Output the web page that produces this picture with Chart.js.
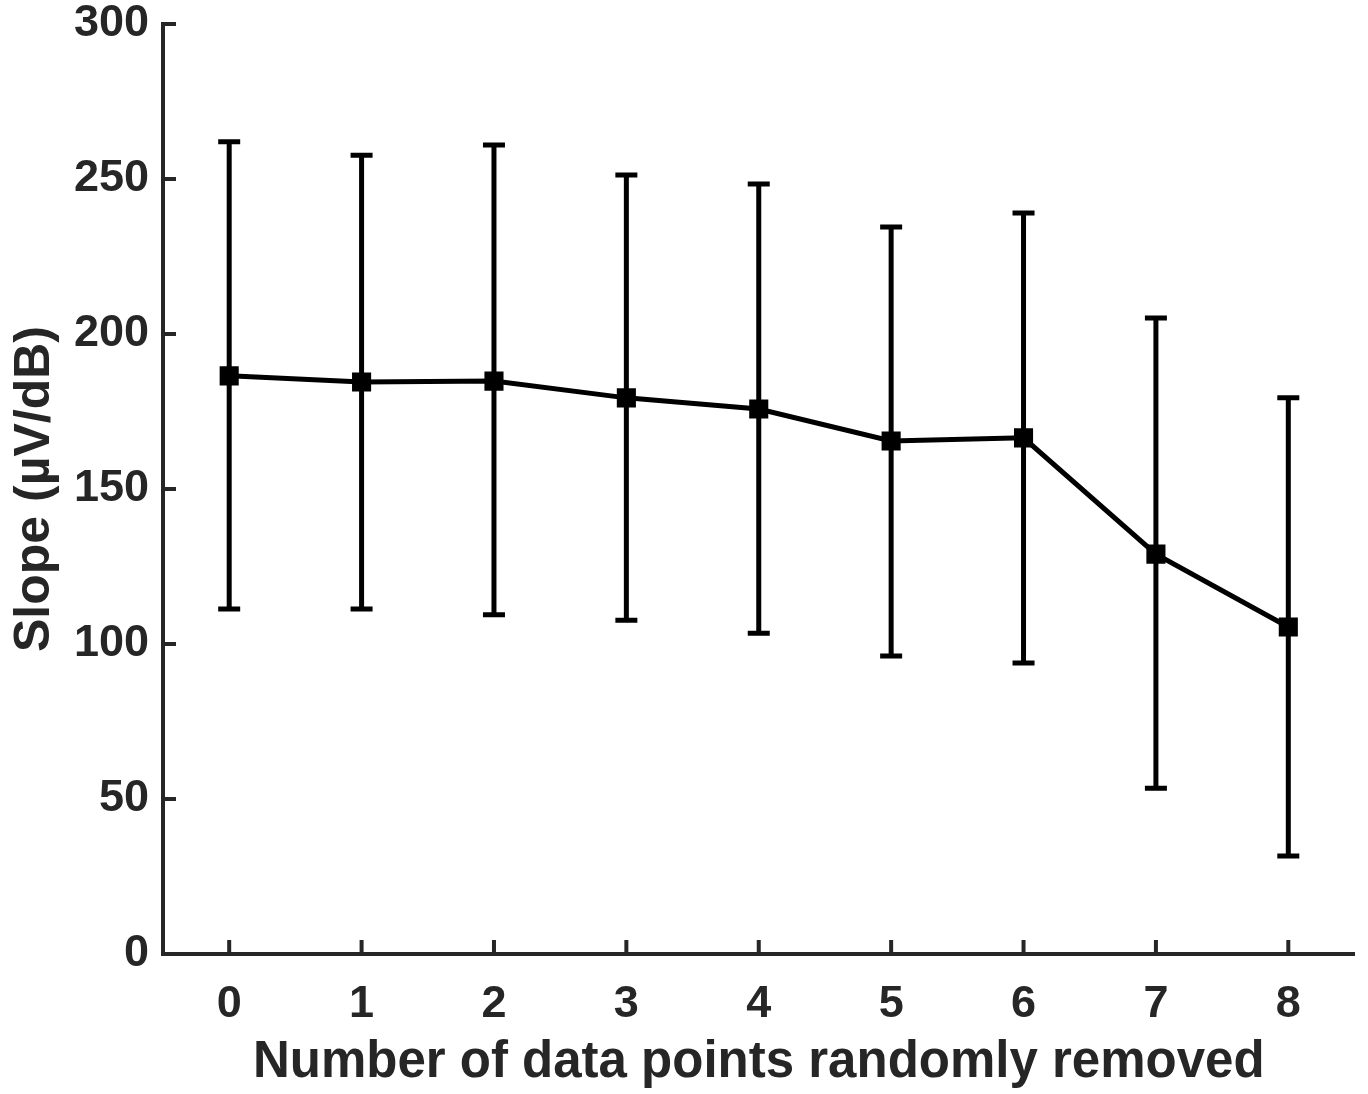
<!DOCTYPE html>
<html>
<head>
<meta charset="utf-8">
<script src="https://cdn.jsdelivr.net/npm/chart.js@4.4.1/dist/chart.umd.min.js"></script>
<style>
html,body{margin:0;padding:0;background:#fff;}
#wrap{width:1368px;height:1094px;position:relative;}
</style>
</head>
<body>
<div id="wrap"><canvas id="c" width="1368" height="1094"></canvas></div>
<script>
const categories = ['0','1','2','3','4','5','6','7','8'];
const slopeMean = [186.5, 184.5, 184.8, 179.4, 175.8, 165.5, 166.5, 129.0, 105.5];
const errUpper = [262.0, 257.7, 261.0, 251.3, 248.4, 234.5, 239.0, 205.2, 179.4];
const errLower = [111.3, 111.3, 109.4, 107.7, 103.5, 96.1, 93.9, 53.5, 31.6];
const yTicks = [0, 50, 100, 150, 200, 250, 300];

const AXIS_COLOR = '#262626';
const FONT = '"Liberation Sans", Arial, Helvetica, sans-serif';

const errorBarPlugin = {
  id: 'errorBars',
  beforeDatasetsDraw(chart) {
    const ctx = chart.ctx;
    const xs = chart.scales.x, ys = chart.scales.y;
    ctx.save();
    ctx.strokeStyle = '#000';
    ctx.lineWidth = 5;
    ctx.lineCap = 'butt';
    categories.forEach((c, i) => {
      const x = xs.getPixelForValue(i);
      const yt = ys.getPixelForValue(errUpper[i]);
      const yb = ys.getPixelForValue(errLower[i]);
      ctx.beginPath();
      ctx.moveTo(x, yt); ctx.lineTo(x, yb);
      ctx.moveTo(x - 11, yt); ctx.lineTo(x + 11, yt);
      ctx.moveTo(x - 11, yb); ctx.lineTo(x + 11, yb);
      ctx.stroke();
    });
    ctx.restore();
  }
};

const innerTicksPlugin = {
  id: 'innerTicks',
  afterDraw(chart) {
    const ctx = chart.ctx;
    const xs = chart.scales.x, ys = chart.scales.y;
    const area = chart.chartArea;
    ctx.save();
    ctx.strokeStyle = AXIS_COLOR;
    ctx.lineWidth = 4;
    ctx.beginPath();
    yTicks.forEach(v => {
      if (v === 0) return;
      const y = ys.getPixelForValue(v);
      ctx.moveTo(area.left, y); ctx.lineTo(area.left + 13, y);
    });
    categories.forEach((c, i) => {
      const x = xs.getPixelForValue(i);
      ctx.moveTo(x, area.bottom); ctx.lineTo(x, area.bottom - 14);
    });
    ctx.stroke();
    ctx.restore();
  }
};

new Chart(document.getElementById('c'), {
  type: 'line',
  data: {
    labels: categories,
    datasets: [{
      data: slopeMean,
      borderColor: '#000',
      backgroundColor: '#000',
      borderWidth: 5,
      pointStyle: 'rect',
      pointRadius: 13.5,
      pointBorderWidth: 0,
      pointBackgroundColor: '#000',
      tension: 0
    }]
  },
  options: {
    responsive: false,
    animation: false,
    devicePixelRatio: 1,
    layout: { padding: { top: 24, right: 13, left: 0, bottom: 0 } },
    plugins: { legend: { display: false }, tooltip: { enabled: false } },
    scales: {
      x: {
        type: 'category',
        offset: true,
        grid: { display: false, drawTicks: false },
        border: { display: true, color: AXIS_COLOR, width: 4 },
        ticks: { color: AXIS_COLOR, font: { family: FONT, size: 45, weight: 'bold' }, padding: 24, maxRotation: 0 },
        title: { display: true, text: 'Number of data points randomly removed', color: AXIS_COLOR,
                 font: { family: FONT, size: 51, weight: 'bold' }, padding: { top: 0, bottom: 0 } },
        afterFit(s) { s.height = 140; s.paddingLeft = 0; s.paddingRight = 0; }
      },
      y: {
        min: 0, max: 300,
        afterBuildTicks(s) { s.ticks = yTicks.map(v => ({ value: v })); },
        grid: { display: false, drawTicks: false },
        border: { display: true, color: AXIS_COLOR, width: 4 },
        ticks: { color: AXIS_COLOR, font: { family: FONT, size: 45, weight: 'bold' }, padding: 14 },
        title: { display: true, text: 'Slope (µV/dB)', color: AXIS_COLOR,
                 font: { family: FONT, size: 50, weight: 'bold' }, padding: { top: 5, bottom: 0 } },
        afterFit(s) { s.width = 163; s.paddingTop = 0; s.paddingBottom = 0; }
      }
    }
  },
  plugins: [errorBarPlugin, innerTicksPlugin]
});
</script>
</body>
</html>
